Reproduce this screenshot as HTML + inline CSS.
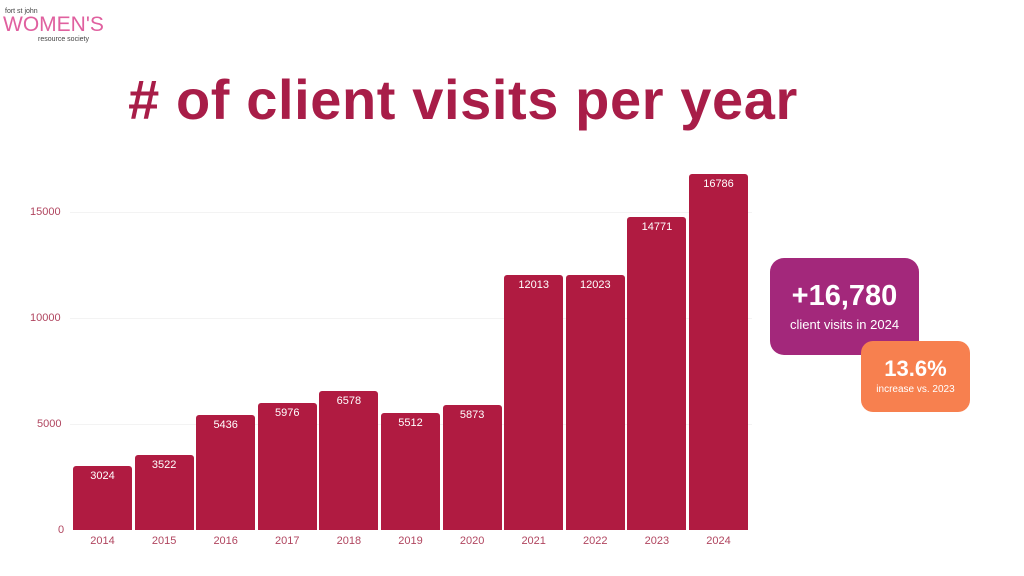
<!DOCTYPE html>
<html><head><style>
body{margin:0;width:1024px;height:576px;background:#fff;font-family:"Liberation Sans","DejaVu Sans",sans-serif;position:relative;overflow:hidden}
.t{position:absolute;left:0;width:926px;text-align:center;top:67px;font-size:56px;font-weight:bold;color:#a81d48;letter-spacing:0.6px}
.ax{position:absolute;font-size:11px;color:#b0455f}
.bar{position:absolute;background:#b01b41;border-radius:3px 3px 0 0}
.v{position:absolute;width:59px;text-align:center;color:#fff;font-size:11px}
.x{position:absolute;width:59px;text-align:center;color:#b0455f;font-size:11px;top:535px}
.g{position:absolute;left:70px;width:682px;height:1px;background:#f3f3f3}
</style></head><body>
<div style="position:absolute;left:5px;top:8px;font-size:7px;color:#444">fort st john</div>
<div style="position:absolute;left:3px;top:14px;font-size:21px;color:#e0609f;letter-spacing:0px;line-height:22px">WOMEN'S</div>
<div style="position:absolute;left:38px;top:36px;font-size:7px;color:#444">resource society</div>
<div class="t"># of client visits per year</div>
<div class="g" style="top:212px"></div><div class="g" style="top:318px"></div><div class="g" style="top:424px"></div>
<div class="ax" style="left:30px;top:206px">15000</div>
<div class="ax" style="left:30px;top:312px">10000</div>
<div class="ax" style="left:37px;top:418px">5000</div>
<div class="ax" style="left:58px;top:524px">0</div>
<div id="c"></div>
<div style="position:absolute;left:770px;top:258px;width:149px;height:97px;background:#a3287b;border-radius:14px;color:#fff;text-align:center">
<div style="font-size:29px;font-weight:bold;margin-top:22px">+16,780</div>
<div style="font-size:13px;margin-top:4px">client visits in 2024</div></div>
<div style="position:absolute;left:861px;top:341px;width:109px;height:71px;background:#f7804f;border-radius:12px;color:#fff;text-align:center">
<div style="font-size:22px;font-weight:bold;margin-top:15px">13.6%</div>
<div style="font-size:10px;margin-top:2px">increase vs. 2023</div></div>
<script>
var d=[3024,3522,5436,5976,6578,5512,5873,12013,12023,14771,16786],h='';
d.forEach(function(v,i){var x=73+i*61.6,t=530-v*0.0212;
h+='<div class="bar" style="left:'+x+'px;top:'+t+'px;width:59px;height:'+(530-t)+'px"></div>';
h+='<div class="v" style="left:'+x+'px;top:'+(t+4)+'px">'+v+'</div>';
h+='<div class="x" style="left:'+x+'px">'+(2014+i)+'</div>';});
document.getElementById('c').innerHTML=h;
</script>
</body></html>
